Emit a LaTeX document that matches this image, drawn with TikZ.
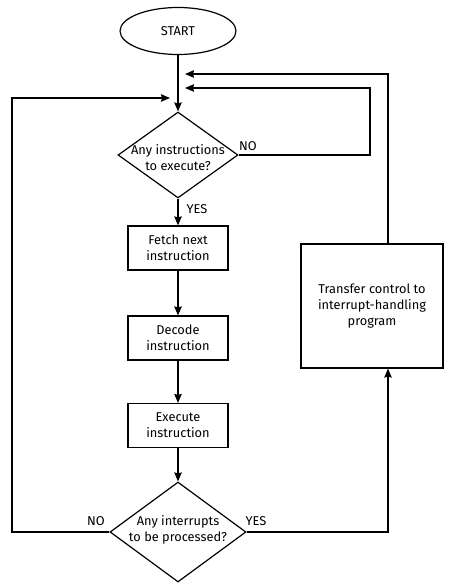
\documentclass[tikz,border=0pt]{standalone}
\usepackage{fontspec}
\setmainfont{Fira Sans}
\usetikzlibrary{shapes.geometric,arrows.meta}

\tikzset{every path/.style={line width=1.2pt}}
\tikzset{every node/.style={font=\fontsize{12.8}{16}\selectfont}}
\tikzset{stepbox/.style={rectangle,draw,align=center}}
\tikzset{question/.style={diamond,draw,inner sep=0pt}}
\tikzset{flow/.style={->,>={Stealth[length=9pt,width=7.5pt,inset=1pt]}}}

\begin{document}
\begin{tikzpicture}[x=1pt,y=-1pt]
    \useasboundingbox (0,0) rectangle (451,588);
    \node[ellipse,draw,minimum width=116pt,minimum height=47pt] (start) at (178,31) {START};
    \node[question,minimum width=120pt,minimum height=86pt] (q1) at (178,155) {};
    \node[align=center] (q1text) at (178,158) {Any instructions\\to execute?};
    \node[stepbox,minimum width=100pt,minimum height=44pt] (fetch) at (178,248) {Fetch next\\instruction};
    \node[stepbox,minimum width=100pt,minimum height=44pt] (decode) at (178,338) {Decode\\instruction};
    \node[stepbox,minimum width=100pt,minimum height=44pt] (exec) at (178,425.5) {Execute\\instruction};
    \node[question,minimum width=136pt,minimum height=100pt] (q2) at (178,532) {};
    \node[align=center] (q2text) at (178,530) {Any interrupts\\to be processed?};
    \node[stepbox,minimum width=142pt,minimum height=124pt] (xfer) at (372,306) {Transfer control to\\interrupt-handling\\program};
    % corners of the loops
    \coordinate (l1) at (12,532);
    \coordinate (l2) at (12,98);
    \coordinate (t1) at (170,98);
    \coordinate (r1) at (388,532);
    \coordinate (u1) at (388,74);
    \coordinate (t2) at (185,74);
    \coordinate (n1) at (370,155);
    \coordinate (n2) at (370,88);
    \coordinate (t3) at (185,88);
    \node (yes1) at (197,209) {YES};
    \node (no1) at (248,146) {NO};
    \node (no2) at (96,521) {NO};
    \node (yes2) at (256,521) {YES};
    \path[flow] (start) edge (q1);
    \path[flow] (q1) edge (fetch);
    \path[flow] (fetch) edge (decode);
    \path[flow] (decode) edge (exec);
    \path[flow] (exec) edge (q2);
    \draw[flow] (q2.west) -- (l1) -- (l2) -- (t1);
    \draw[flow] (q2.east) -- (r1) -- (r1 |- xfer.south);
    \draw[flow] (u1 |- xfer.north) -- (u1) -- (t2);
    \draw[flow] (q1.east) -- (n1) -- (n2) -- (t3);
  \end{tikzpicture}
\end{document}
